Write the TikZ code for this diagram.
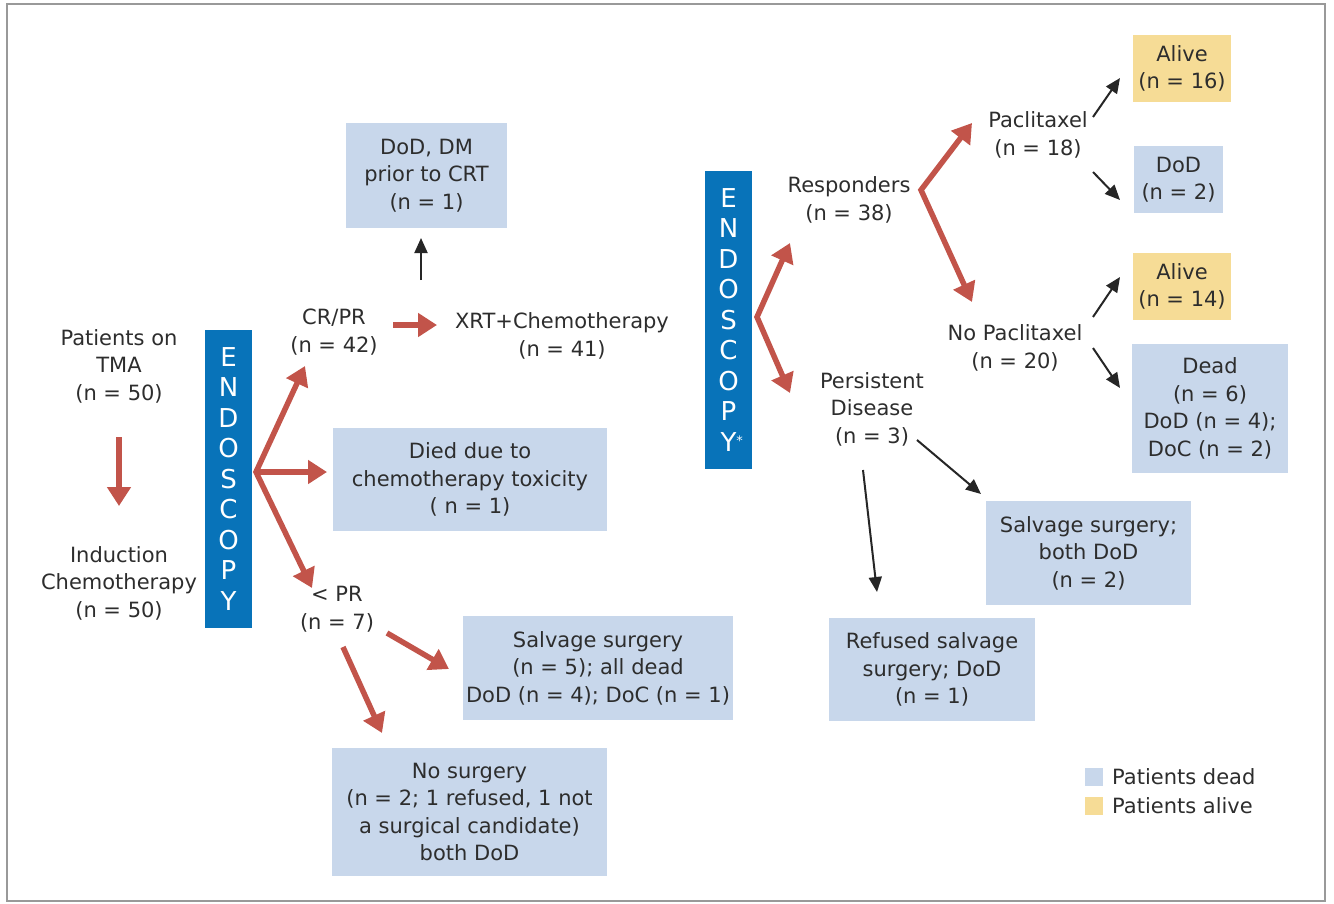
\documentclass[tikz,border=0pt]{standalone}
\usepackage{fontspec}
\setmainfont{DejaVu Sans}
\usetikzlibrary{arrows.meta}

\definecolor{deadblue}{RGB}{200,215,235}
\definecolor{aliveyellow}{RGB}{246,220,150}
\definecolor{endoblue}{RGB}{8,115,185}
\definecolor{arrowred}{RGB}{194,84,74}
\definecolor{txtgray}{RGB}{45,45,45}

\tikzset{
  lbl/.style={align=center, inner sep=0pt, text=txtgray,
    font=\fontsize{21}{27.5}\selectfont},
  deadbox/.style={lbl, fill=deadblue},
  alivebox/.style={lbl, fill=aliveyellow},
  endobar/.style={fill=endoblue, text=white, align=center, inner sep=0pt,
    minimum width=47, minimum height=298, font=\fontsize{26}{30.5}\selectfont},
  redarrow/.style={draw=arrowred, line width=5.5,
    arrows={-Triangle[length=19pt, width=23pt]}},
  redfan/.style={draw=arrowred, line width=5.5, line join=miter,
    arrows={Triangle[length=19pt, width=23pt]-Triangle[length=19pt, width=23pt]}},
  blkarrow/.style={draw=black!85, line width=2,
    arrows={-Triangle[length=15pt, width=13pt]}},
}

\begin{document}
\begin{tikzpicture}[x=1pt, y=-1pt]
\useasboundingbox (0,0) rectangle (1334,903);
\draw[gray!80, line width=1.8] (7,4) rectangle (1325,901);

% first endoscopy
\node[lbl] (tma) at (119,366) {Patients on\\TMA\\(n = 50)};
\node[lbl] (induct) at (119,583) {Induction\\Chemotherapy\\(n = 50)};
\node[endobar] (endoA) at (228.5,479) {E\\N\\D\\O\\S\\C\\O\\P\\Y};
\node[lbl] (crpr) at (334,332) {CR/PR\\(n = 42)};
\node[lbl] (xrt) at (562,336) {XRT+Chemotherapy\\(n = 41)};
\node[lbl] (lesspr) at (337,609) {< PR\\(n = 7)};
\node[deadbox, minimum width=161, minimum height=105] (dmbox) at (426.5,175.5)
  {DoD, DM\\prior to CRT\\(n = 1)};
\node[deadbox, minimum width=274, minimum height=103] (toxbox) at (470,479.5)
  {Died due to\\chemotherapy toxicity\\( n = 1)};
\node[deadbox, minimum width=270, minimum height=104] (salvA) at (598,668)
  {Salvage surgery\\(n = 5); all dead\\DoD (n = 4); DoC (n = 1)};
\node[deadbox, minimum width=275, minimum height=128] (nosurg) at (469.5,812)
  {No surgery\\(n = 2; 1 refused, 1 not\\a surgical candidate)\\both DoD};

% second endoscopy
\node[endobar] (endoB) at (728.5,320)
  {E\\N\\D\\O\\S\\C\\O\\P\\Y\rlap{\raisebox{6pt}{\fontsize{13}{13}\selectfont *}}};
\node[lbl] (resp) at (849,200) {Responders\\(n = 38)};
\node[lbl] (persist) at (872,409) {Persistent\\Disease\\(n = 3)};
\node[lbl] (pacli) at (1038,135) {Paclitaxel\\(n = 18)};
\node[lbl] (nopacli) at (1015,348) {No Paclitaxel\\(n = 20)};
\node[alivebox, minimum width=98, minimum height=67] (aliveA) at (1182,68.5)
  {Alive\\(n = 16)};
\node[deadbox, minimum width=89, minimum height=67] (dodA) at (1178.5,179.5)
  {DoD\\(n = 2)};
\node[alivebox, minimum width=98, minimum height=67] (aliveB) at (1182,286.5)
  {Alive\\(n = 14)};
\node[deadbox, minimum width=156, minimum height=129] (deadB) at (1210,408.5)
  {Dead\\(n = 6)\\DoD (n = 4);\\DoC (n = 2)};
\node[deadbox, minimum width=205, minimum height=104] (salvB) at (1088.5,553)
  {Salvage surgery;\\both DoD\\(n = 2)};
\node[deadbox, minimum width=206, minimum height=103] (refused) at (932,669.5)
  {Refused salvage\\surgery; DoD\\(n = 1)};

% legend
\node[fill=deadblue, minimum size=18, inner sep=0pt] (keydead) at (1094,776.5) {};
\node[fill=aliveyellow, minimum size=18, inner sep=0pt] (keyalive) at (1094,806) {};
\node[lbl, anchor=west] (keydeadtxt) at (1112,777) {Patients dead};
\node[lbl, anchor=west] (keyalivetxt) at (1112,806) {Patients alive};

% arrow ends
\coordinate (tmaend) at (119,437);
\coordinate (inducthead) at (119,506);
\coordinate (fanA) at (256,472);
\coordinate (crprhead) at (305,366);
\coordinate (toxhead) at (327,472);
\coordinate (lessprhead) at (312,588);
\coordinate (crprend) at (393,325);
\coordinate (xrthead) at (437,325);
\coordinate (xrtup) at (421,280);
\coordinate (dmhead) at (421,238);
\coordinate (lessprA) at (387,633);
\coordinate (salvAhead) at (449,669);
\coordinate (lessprB) at (343,647);
\coordinate (nosurghead) at (382,733);
\coordinate (fanB) at (757,317);
\coordinate (resphead) at (790,243);
\coordinate (persisthead) at (790,393);
\coordinate (fanC) at (921,190);
\coordinate (paclihead) at (972,123);
\coordinate (nopaclihead) at (972,302);
\coordinate (pacliA) at (1093,117);
\coordinate (aliveAhead) at (1120,78);
\coordinate (pacliB) at (1093,172);
\coordinate (dodAhead) at (1120,200);
\coordinate (nopacliA) at (1093,317);
\coordinate (aliveBhead) at (1120,277);
\coordinate (nopacliB) at (1093,348);
\coordinate (deadBhead) at (1120,388);
\coordinate (persistA) at (917,440);
\coordinate (salvBhead) at (981,494);
\coordinate (persistB) at (863,470);
\coordinate (refusedhead) at (877,592);

\draw[redarrow] (tmaend) -- (inducthead);
\draw[redfan] (crprhead) -- (fanA) -- (lessprhead);
\draw[redarrow] (fanA) -- (toxhead);
\draw[redarrow] (crprend) -- (xrthead);
\draw[redarrow] (lessprA) -- (salvAhead);
\draw[redarrow] (lessprB) -- (nosurghead);
\draw[redfan] (resphead) -- (fanB) -- (persisthead);
\draw[redfan] (paclihead) -- (fanC) -- (nopaclihead);

\draw[blkarrow] (xrtup) -- (dmhead);
\draw[blkarrow] (pacliA) -- (aliveAhead);
\draw[blkarrow] (pacliB) -- (dodAhead);
\draw[blkarrow] (nopacliA) -- (aliveBhead);
\draw[blkarrow] (nopacliB) -- (deadBhead);
\draw[blkarrow] (persistA) -- (salvBhead);
\draw[blkarrow] (persistB) -- (refusedhead);
\end{tikzpicture}
\end{document}
